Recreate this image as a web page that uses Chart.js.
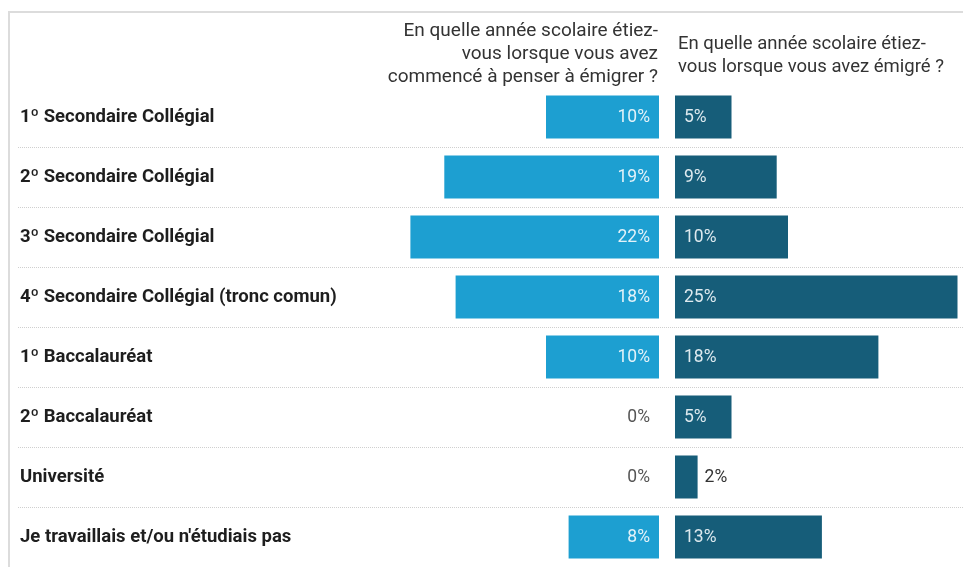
<!DOCTYPE html>
<html>
<head>
<meta charset="utf-8">
<script src="https://cdn.jsdelivr.net/npm/chart.js@4.4.1/dist/chart.umd.min.js"></script>
<style>
  html, body { margin: 0; padding: 0; background: #ffffff; }
  #wrap { position: relative; width: 963px; height: 567px; }
</style>
</head>
<body>
<div id="wrap"><canvas id="chart" width="963" height="567"></canvas></div>
<script>
// Categories (school year)
const categories = [
  '1º Secondaire Collégial',
  '2º Secondaire Collégial',
  '3º Secondaire Collégial',
  '4º Secondaire Collégial (tronc comun)',
  '1º Baccalauréat',
  '2º Baccalauréat',
  'Université',
  "Je travaillais et/ou n'étudiais pas"
];
// Share of respondents (%) — when they started thinking about emigrating
const startedThinking = [10, 19, 22, 18, 10, 0, 0, 8];
// Share of respondents (%) — when they emigrated
const emigrated = [5, 9, 10, 25, 18, 5, 2, 13];
// Column headers
const headerLeft = ['En quelle année scolaire étiez-', 'vous lorsque vous avez', 'commencé à penser à émigrer ?'];
const headerRight = ['En quelle année scolaire étiez-', 'vous lorsque vous avez émigré ?'];

const COLOR_LEFT = '#1d9fd1';
const COLOR_RIGHT = '#165d79';
const FONT = 'Roboto, "Open Sans", Arial, sans-serif';

// Two mirrored value axes sharing one plot area: the left one is reversed
// so its bars grow leftwards from its zero line, the right one grows rightwards.
const AREA_LEFT = 380, AREA_RIGHT = 963;
const PX_PER_UNIT = 11.3;
const ZERO_L = 659, ZERO_R = 675;
const spanUnits = (AREA_RIGHT - AREA_LEFT) / PX_PER_UNIT;
const leftMin = -(AREA_RIGHT - ZERO_L) / PX_PER_UNIT;
const rightMin = -(ZERO_R - AREA_LEFT) / PX_PER_UNIT;

const hiddenLine = (c) => (c.index === undefined || c.index === 0);

const framePlugin = {
  id: 'frame',
  beforeDraw(chart) {
    const ctx = chart.ctx;
    ctx.save();
    ctx.strokeStyle = '#dcdcdc';
    ctx.lineWidth = 2;
    ctx.beginPath();
    ctx.moveTo(963, 12);
    ctx.lineTo(9, 12);
    ctx.lineTo(9, 567);
    ctx.stroke();
    ctx.restore();
  }
};

const headerPlugin = {
  id: 'headers',
  afterDraw(chart) {
    const ctx = chart.ctx;
    ctx.save();
    ctx.fillStyle = '#333333';
    ctx.textBaseline = 'middle';
    ctx.font = '19px ' + FONT;
    ctx.textAlign = 'right';
    headerLeft.forEach((t, i) => ctx.fillText(t, 658, 31 + i * 23));
    ctx.font = '18.5px ' + FONT;
    ctx.textAlign = 'left';
    headerRight.forEach((t, i) => ctx.fillText(t, 678, 44 + i * 23));
    ctx.restore();
  }
};

const valueLabelPlugin = {
  id: 'valueLabels',
  afterDatasetsDraw(chart) {
    const ctx = chart.ctx;
    ctx.save();
    ctx.font = '17.5px ' + FONT;
    ctx.textBaseline = 'middle';
    chart.data.datasets.forEach((ds, di) => {
      const meta = chart.getDatasetMeta(di);
      meta.data.forEach((bar, i) => {
        const v = ds.data[i];
        const text = v + '%';
        const w = ctx.measureText(text).width;
        const barW = Math.abs(bar.x - bar.base);
        if (di === 0) {
          ctx.textAlign = 'right';
          ctx.fillStyle = barW > w + 14 ? '#e3f2f9' : '#555555';
          ctx.fillText(text, bar.base - 9, bar.y + 1);
        } else {
          ctx.textAlign = 'left';
          if (barW > w + 14) {
            ctx.fillStyle = '#dde9ee';
            ctx.fillText(text, bar.base + 9, bar.y + 1);
          } else {
            ctx.fillStyle = '#333333';
            ctx.fillText(text, bar.x + 7, bar.y + 1);
          }
        }
      });
    });
    ctx.restore();
  }
};

new Chart(document.getElementById('chart'), {
  type: 'bar',
  data: {
    labels: categories,
    datasets: [
      {
        label: headerLeft.join(' '),
        data: startedThinking,
        backgroundColor: COLOR_LEFT,
        xAxisID: 'xLeft',
        grouped: false,
        inflateAmount: 0,
        barThickness: 43
      },
      {
        label: headerRight.join(' '),
        data: emigrated,
        backgroundColor: COLOR_RIGHT,
        xAxisID: 'xRight',
        grouped: false,
        inflateAmount: 0,
        barThickness: 43
      }
    ]
  },
  options: {
    indexAxis: 'y',
    responsive: false,
    animation: false,
    layout: { padding: { left: 20, top: 87, right: 0, bottom: 0 } },
    plugins: {
      legend: { display: false },
      tooltip: { enabled: false }
    },
    scales: {
      xLeft: {
        type: 'linear',
        display: false,
        reverse: true,
        min: leftMin,
        max: leftMin + spanUnits
      },
      xRight: {
        type: 'linear',
        display: false,
        min: rightMin,
        max: rightMin + spanUnits
      },
      y: {
        type: 'category',
        position: 'left',
        afterFit(scale) {
          scale.width = AREA_LEFT - 20;
          scale.paddingTop = 0;
          scale.paddingBottom = 0;
        },
        border: { display: false, dash: [1, 1] },
        grid: {
          color: (c) => hiddenLine(c) ? 'rgba(0,0,0,0)' : '#cfcfcf',
          tickColor: (c) => hiddenLine(c) ? 'rgba(0,0,0,0)' : '#cfcfcf',
          tickBorderDash: [1, 1],
          tickLength: AREA_LEFT - 18,
          lineWidth: 1
        },
        ticks: {
          crossAlign: 'far',
          color: '#1e1e1e',
          font: { family: FONT, size: 18.5, weight: 'bold' }
        }
      }
    }
  },
  plugins: [framePlugin, headerPlugin, valueLabelPlugin]
});
</script>
</body>
</html>
